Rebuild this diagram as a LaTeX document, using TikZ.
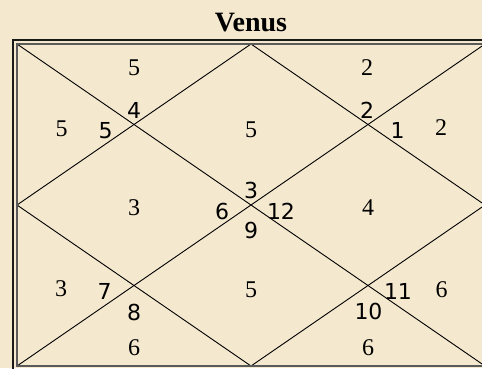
\documentclass[tikz,border=0pt]{standalone}
\usepackage{fontspec}
\setmainfont{Liberation Serif}
\newfontfamily\hfont{DejaVu Sans}
\definecolor{bgc}{RGB}{244,232,206}
\definecolor{innerc}{RGB}{90,90,90}
\begin{document}
\begin{tikzpicture}[x=1pt,y=-1pt,
  cnt/.style={font=\fontsize{24}{24}\selectfont, inner sep=0pt, anchor=center},
  hn/.style={font=\hfont\fontsize{22}{22}\selectfont, inner sep=0pt, anchor=center},
  chartline/.style={draw=black, line width=0.9pt},
  outerb/.style={draw=black!90, line width=1.6pt},
  innerb/.style={draw=innerc, line width=1.8pt}]
\useasboundingbox (0,0) rectangle (482,368);
\fill[bgc] (0,0) rectangle (482,368);
\begin{scope}
\clip (0,0) rectangle (482,368);
% corners and midpoints of the chart square
\coordinate (TL) at (17,44);
\coordinate (TR) at (485,44);
\coordinate (BL) at (17,366);
\coordinate (BR) at (485,366);
\coordinate (TM) at (251,44);
\coordinate (BM) at (251,366);
\coordinate (LM) at (17,205);
\coordinate (RM) at (485,205);
\draw[chartline] (TL) -- (BR);
\draw[chartline] (TR) -- (BL);
\draw[chartline] (TM) -- (RM) -- (BM) -- (LM) -- cycle;
\draw[outerb] (13,40) rectangle (489,370);
\draw[innerb] (TL) rectangle (BR);
\end{scope}
% title
\node[font=\bfseries\fontsize{28}{28}\selectfont, inner sep=0pt, anchor=base] (title) at (251,31) {Venus};
% planet counts
\node[cnt] (c1) at (134,68) {5};
\node[cnt] (c2) at (367,67.5) {2};
\node[cnt] (c3) at (61.5,128.5) {5};
\node[cnt] (c4) at (251,130) {5};
\node[cnt] (c5) at (441,128) {2};
\node[cnt] (c6) at (134,208) {3};
\node[cnt] (c7) at (368,208) {4};
\node[cnt] (c8) at (61,288.5) {3};
\node[cnt] (c9) at (251,290) {5};
\node[cnt] (c10) at (441.5,290) {6};
\node[cnt] (c11) at (134,348) {6};
\node[cnt] (c12) at (368,348) {6};
% house numbers
\node[hn] (h4) at (134,110) {4};
\node[hn] (h2) at (367,110) {2};
\node[hn] (h5) at (105.5,130.5) {5};
\node[hn] (h1) at (397.5,130) {1};
\node[hn] (h3) at (251,190) {3};
\node[hn] (h6) at (222,211) {6};
\node[hn] (h12) at (281,211) {12};
\node[hn] (h9) at (251,230) {9};
\node[hn] (h7) at (104.5,291) {7};
\node[hn] (h8) at (134,312) {8};
\node[hn] (h10) at (368.5,311.5) {10};
\node[hn] (h11) at (398,291.5) {11};
\end{tikzpicture}
\end{document}
